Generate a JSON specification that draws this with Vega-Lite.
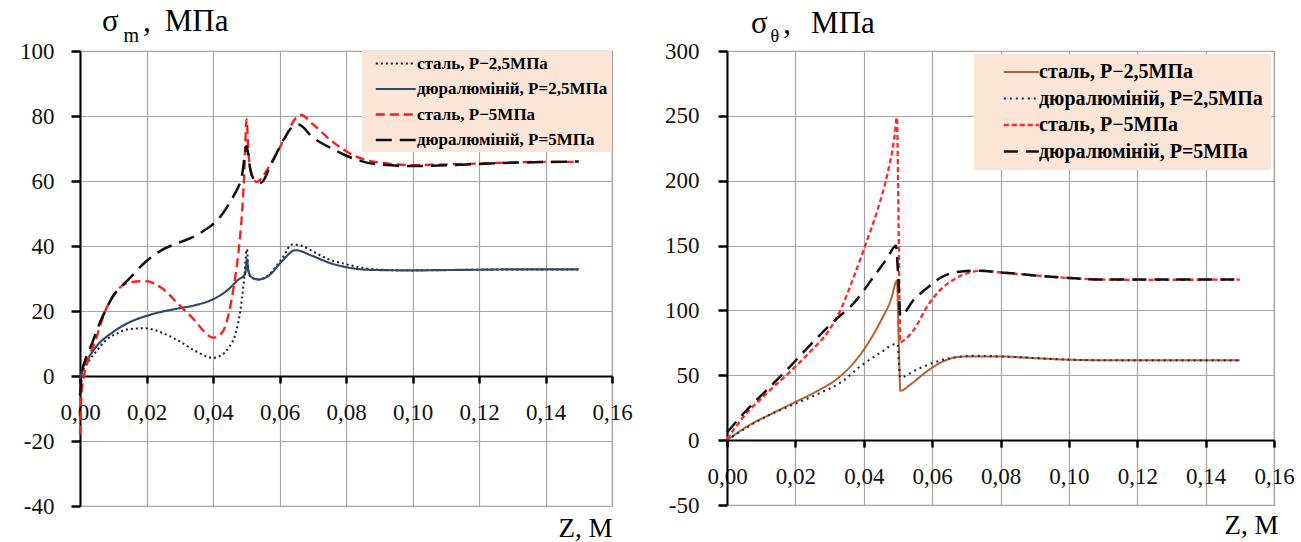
{
  "$schema": "https://vega.github.io/schema/vega-lite/v6.json",
  "background": "white",
  "padding": {"left": 18, "top": 5, "right": 0, "bottom": 0},
  "spacing": 30,
  "config": {
    "font": "Liberation Serif, Times New Roman, serif",
    "view": {"stroke": "#a6a6a6", "strokeWidth": 1.2},
    "style": {"guide-label": {"font": "Liberation Serif, Times New Roman, serif"}, "guide-title": {"font": "Liberation Serif, Times New Roman, serif"}},
    "axis": {"labelFont": "Liberation Serif, Times New Roman, serif", "labelFontSize": 23, "labelColor": "#111", "domainColor": "#000", "domainWidth": 2, "tickColor": "#000", "tickWidth": 2.5, "gridColor": "#a6a6a6", "gridWidth": 1.2, "titleFont": "Liberation Serif, Times New Roman, serif", "titleFontWeight": "normal", "titleColor": "#000", "labelFlush": false, "labelOverlap": false},
    "axisX": {"tickSize": 7, "labelPadding": 18},
    "axisY": {"tickSize": 9, "labelExpr": "datum.value < 0 ? '-' + abs(datum.value) : '' + datum.value"},
    "title": {"font": "Liberation Serif, Times New Roman, serif", "fontSize": 31, "fontWeight": "normal", "color": "#000", "anchor": "start", "frame": "group", "baseline": "alphabetic"},
    "legend": {"labelFont": "Liberation Serif, Times New Roman, serif", "labelFontWeight": "bold", "labelColor": "#000", "labelLimit": 400}
  },
  "datasets": {
    "left": [
      {"s":"сталь, Р−2,5МПа","z":0,"v":-1},{"s":"сталь, Р−2,5МПа","z":0.001,"v":2},{"s":"сталь, Р−2,5МПа","z":0.0026,"v":4.6},{"s":"сталь, Р−2,5МПа","z":0.0046,"v":7.2},{"s":"сталь, Р−2,5МПа","z":0.0076,"v":10.8},{"s":"сталь, Р−2,5МПа","z":0.0116,"v":13.3},{"s":"сталь, Р−2,5МПа","z":0.0146,"v":14.4},{"s":"сталь, Р−2,5МПа","z":0.0196,"v":14.7},{"s":"сталь, Р−2,5МПа","z":0.0247,"v":13.3},{"s":"сталь, Р−2,5МПа","z":0.0297,"v":10.8},{"s":"сталь, Р−2,5МПа","z":0.0347,"v":7.7},{"s":"сталь, Р−2,5МПа","z":0.04,"v":5.6},{"s":"сталь, Р−2,5МПа","z":0.0427,"v":6.5},{"s":"сталь, Р−2,5МПа","z":0.0447,"v":8.7},{"s":"сталь, Р−2,5МПа","z":0.0467,"v":12.8},{"s":"сталь, Р−2,5МПа","z":0.0482,"v":20},{"s":"сталь, Р−2,5МПа","z":0.0492,"v":28.2},{"s":"сталь, Р−2,5МПа","z":0.0502,"v":39},{"s":"сталь, Р−2,5МПа","z":0.0507,"v":32.3},{"s":"сталь, Р−2,5МПа","z":0.0515,"v":30.2},{"s":"сталь, Р−2,5МПа","z":0.0537,"v":29.7},{"s":"сталь, Р−2,5МПа","z":0.0567,"v":31.1},{"s":"сталь, Р−2,5МПа","z":0.0608,"v":36.2},{"s":"сталь, Р−2,5МПа","z":0.0638,"v":40.5},{"s":"сталь, Р−2,5МПа","z":0.0668,"v":40},{"s":"сталь, Р−2,5МПа","z":0.0708,"v":37.9},{"s":"сталь, Р−2,5МПа","z":0.0748,"v":35.9},{"s":"сталь, Р−2,5МПа","z":0.08,"v":34.4},{"s":"сталь, Р−2,5МПа","z":0.0848,"v":33.3},{"s":"сталь, Р−2,5МПа","z":0.09,"v":32.7},{"s":"сталь, Р−2,5МПа","z":0.1,"v":32.5},{"s":"сталь, Р−2,5МПа","z":0.11,"v":32.6},{"s":"сталь, Р−2,5МПа","z":0.12,"v":32.7},{"s":"сталь, Р−2,5МПа","z":0.13,"v":32.8},{"s":"сталь, Р−2,5МПа","z":0.14,"v":32.8},{"s":"сталь, Р−2,5МПа","z":0.15,"v":32.8},
      {"s":"дюралюміній, Р=2,5МПа","z":0,"v":-1},{"s":"дюралюміній, Р=2,5МПа","z":0.001,"v":3},{"s":"дюралюміній, Р=2,5МПа","z":0.0025,"v":5.5},{"s":"дюралюміній, Р=2,5МПа","z":0.0046,"v":8.7},{"s":"дюралюміній, Р=2,5МПа","z":0.0096,"v":13.3},{"s":"дюралюміній, Р=2,5МПа","z":0.0146,"v":16.4},{"s":"дюралюміній, Р=2,5МПа","z":0.02,"v":18.5},{"s":"дюралюміній, Р=2,5МПа","z":0.0247,"v":19.8},{"s":"дюралюміній, Р=2,5МПа","z":0.0297,"v":20.8},{"s":"дюралюміній, Р=2,5МПа","z":0.0347,"v":21.8},{"s":"дюралюміній, Р=2,5МПа","z":0.04,"v":23.6},{"s":"дюралюміній, Р=2,5МПа","z":0.0447,"v":26.7},{"s":"дюралюміній, Р=2,5МПа","z":0.0477,"v":29.7},{"s":"дюралюміній, Р=2,5МПа","z":0.0492,"v":30.8},{"s":"дюралюміній, Р=2,5МПа","z":0.0497,"v":31.5},{"s":"дюралюміній, Р=2,5МПа","z":0.0502,"v":35.9},{"s":"дюралюміній, Р=2,5МПа","z":0.0506,"v":32.5},{"s":"дюралюміній, Р=2,5МПа","z":0.0515,"v":30.5},{"s":"дюралюміній, Р=2,5МПа","z":0.0537,"v":29.7},{"s":"дюралюміній, Р=2,5МПа","z":0.0567,"v":30.8},{"s":"дюралюміній, Р=2,5МПа","z":0.0608,"v":35.4},{"s":"дюралюміній, Р=2,5МПа","z":0.0648,"v":38.7},{"s":"дюралюміній, Р=2,5МПа","z":0.07,"v":36.9},{"s":"дюралюміній, Р=2,5МПа","z":0.0748,"v":34.9},{"s":"дюралюміній, Р=2,5МПа","z":0.08,"v":33.5},{"s":"дюралюміній, Р=2,5МПа","z":0.0848,"v":32.8},{"s":"дюралюміній, Р=2,5МПа","z":0.09,"v":32.6},{"s":"дюралюміній, Р=2,5МПа","z":0.1,"v":32.5},{"s":"дюралюміній, Р=2,5МПа","z":0.11,"v":32.6},{"s":"дюралюміній, Р=2,5МПа","z":0.12,"v":32.7},{"s":"дюралюміній, Р=2,5МПа","z":0.13,"v":32.8},{"s":"дюралюміній, Р=2,5МПа","z":0.14,"v":32.8},{"s":"дюралюміній, Р=2,5МПа","z":0.15,"v":32.8},
      {"s":"сталь, Р−5МПа","z":0,"v":-18},{"s":"сталь, Р−5МПа","z":0.0006,"v":-3.6},{"s":"сталь, Р−5МПа","z":0.0021,"v":3.6},{"s":"сталь, Р−5МПа","z":0.0046,"v":10.8},{"s":"сталь, Р−5МПа","z":0.0076,"v":20},{"s":"сталь, Р−5МПа","z":0.0106,"v":25.6},{"s":"сталь, Р−5МПа","z":0.0146,"v":28.7},{"s":"сталь, Р−5МПа","z":0.0196,"v":29.2},{"s":"сталь, Р−5МПа","z":0.0247,"v":27},{"s":"сталь, Р−5МПа","z":0.0297,"v":22},{"s":"сталь, Р−5МПа","z":0.0347,"v":16.9},{"s":"сталь, Р−5МПа","z":0.0377,"v":13.3},{"s":"сталь, Р−5МПа","z":0.04,"v":11.8},{"s":"сталь, Р−5МПа","z":0.0427,"v":13.3},{"s":"сталь, Р−5МПа","z":0.0447,"v":19},{"s":"сталь, Р−5МПа","z":0.0462,"v":27.2},{"s":"сталь, Р−5МПа","z":0.0477,"v":38.5},{"s":"сталь, Р−5МПа","z":0.0487,"v":49.7},{"s":"сталь, Р−5МПа","z":0.0494,"v":62},{"s":"сталь, Р−5МПа","z":0.0501,"v":79},{"s":"сталь, Р−5МПа","z":0.0506,"v":70},{"s":"сталь, Р−5МПа","z":0.0512,"v":63.5},{"s":"сталь, Р−5МПа","z":0.0522,"v":60.5},{"s":"сталь, Р−5МПа","z":0.0532,"v":59.7},{"s":"сталь, Р−5МПа","z":0.055,"v":61.5},{"s":"сталь, Р−5МПа","z":0.058,"v":66.5},{"s":"сталь, Р−5МПа","z":0.062,"v":74},{"s":"сталь, Р−5МПа","z":0.065,"v":79.5},{"s":"сталь, Р−5МПа","z":0.0665,"v":80.3},{"s":"сталь, Р−5МПа","z":0.07,"v":77.5},{"s":"сталь, Р−5МПа","z":0.0763,"v":71.8},{"s":"сталь, Р−5МПа","z":0.0825,"v":67.8},{"s":"сталь, Р−5МПа","z":0.0888,"v":65.9},{"s":"сталь, Р−5МПа","z":0.0999,"v":64.9},{"s":"сталь, Р−5МПа","z":0.1137,"v":65.2},{"s":"сталь, Р−5МПа","z":0.126,"v":65.6},{"s":"сталь, Р−5МПа","z":0.14,"v":65.9},{"s":"сталь, Р−5МПа","z":0.15,"v":65.9},
      {"s":"дюралюміній, Р=5МПа","z":0,"v":-6},{"s":"дюралюміній, Р=5МПа","z":0.0006,"v":1},{"s":"дюралюміній, Р=5МПа","z":0.0016,"v":5},{"s":"дюралюміній, Р=5МПа","z":0.0036,"v":10},{"s":"дюралюміній, Р=5МПа","z":0.0056,"v":15.5},{"s":"дюралюміній, Р=5МПа","z":0.0076,"v":20},{"s":"дюралюміній, Р=5МПа","z":0.0096,"v":24},{"s":"дюралюміній, Р=5МПа","z":0.0146,"v":29.7},{"s":"дюралюміній, Р=5МПа","z":0.0196,"v":35},{"s":"дюралюміній, Р=5МПа","z":0.0247,"v":38.8},{"s":"дюралюміній, Р=5МПа","z":0.0297,"v":41},{"s":"дюралюміній, Р=5МПа","z":0.0347,"v":43.1},{"s":"дюралюміній, Р=5МПа","z":0.0377,"v":45},{"s":"дюралюміній, Р=5МПа","z":0.04,"v":46.7},{"s":"дюралюміній, Р=5МПа","z":0.0427,"v":49.7},{"s":"дюралюміній, Р=5МПа","z":0.0447,"v":52.8},{"s":"дюралюміній, Р=5МПа","z":0.0464,"v":55.8},{"s":"дюралюміній, Р=5МПа","z":0.0488,"v":62.2},{"s":"дюралюміній, Р=5МПа","z":0.0501,"v":70.8},{"s":"дюралюміній, Р=5МПа","z":0.0511,"v":64.3},{"s":"дюралюміній, Р=5МПа","z":0.0526,"v":60.1},{"s":"дюралюміній, Р=5МПа","z":0.0544,"v":59.5},{"s":"дюралюміній, Р=5МПа","z":0.0576,"v":65.4},{"s":"дюралюміній, Р=5МПа","z":0.0613,"v":72.8},{"s":"дюралюміній, Р=5МПа","z":0.0644,"v":77.1},{"s":"дюралюміній, Р=5МПа","z":0.0657,"v":77.4},{"s":"дюралюміній, Р=5МПа","z":0.07,"v":73.4},{"s":"дюралюміній, Р=5МПа","z":0.0763,"v":69.7},{"s":"дюралюміній, Р=5МПа","z":0.0825,"v":66.8},{"s":"дюралюміній, Р=5МПа","z":0.0888,"v":65.2},{"s":"дюралюміній, Р=5МПа","z":0.1012,"v":64.6},{"s":"дюралюміній, Р=5МПа","z":0.126,"v":65.5},{"s":"дюралюміній, Р=5МПа","z":0.15,"v":66}
    ],
    "right": [
      {"s":"сталь, Р−2,5МПа","z":0,"v":0},{"s":"сталь, Р−2,5МПа","z":0.007,"v":12.3},{"s":"сталь, Р−2,5МПа","z":0.0119,"v":18.8},{"s":"сталь, Р−2,5МПа","z":0.0197,"v":29},{"s":"сталь, Р−2,5МПа","z":0.0265,"v":38},{"s":"сталь, Р−2,5МПа","z":0.0314,"v":45.7},{"s":"сталь, Р−2,5МПа","z":0.0363,"v":57.3},{"s":"сталь, Р−2,5МПа","z":0.0411,"v":74},{"s":"сталь, Р−2,5МПа","z":0.045,"v":92},{"s":"сталь, Р−2,5МПа","z":0.048,"v":108.7},{"s":"сталь, Р−2,5МПа","z":0.0497,"v":122.8},{"s":"сталь, Р−2,5МПа","z":0.0502,"v":80},{"s":"сталь, Р−2,5МПа","z":0.0507,"v":38},{"s":"сталь, Р−2,5МПа","z":0.0538,"v":43.2},{"s":"сталь, Р−2,5МПа","z":0.0587,"v":53.5},{"s":"сталь, Р−2,5МПа","z":0.0626,"v":59.9},{"s":"сталь, Р−2,5МПа","z":0.0665,"v":63.7},{"s":"сталь, Р−2,5МПа","z":0.0704,"v":64.5},{"s":"сталь, Р−2,5МПа","z":0.08,"v":64.5},{"s":"сталь, Р−2,5МПа","z":0.09,"v":63.2},{"s":"сталь, Р−2,5МПа","z":0.1,"v":62},{"s":"сталь, Р−2,5МПа","z":0.11,"v":61.6},{"s":"сталь, Р−2,5МПа","z":0.13,"v":61.5},{"s":"сталь, Р−2,5МПа","z":0.15,"v":61.5},
      {"s":"дюралюміній, Р=2,5МПа","z":0,"v":0},{"s":"дюралюміній, Р=2,5МПа","z":0.0119,"v":18.8},{"s":"дюралюміній, Р=2,5МПа","z":0.0197,"v":27.8},{"s":"дюралюміній, Р=2,5МПа","z":0.0265,"v":35.5},{"s":"дюралюміній, Р=2,5МПа","z":0.0333,"v":44.5},{"s":"дюралюміній, Р=2,5МПа","z":0.0392,"v":57.3},{"s":"дюралюміній, Р=2,5МПа","z":0.045,"v":67.6},{"s":"дюралюміній, Р=2,5МПа","z":0.0493,"v":74},{"s":"дюралюміній, Р=2,5МПа","z":0.0499,"v":74},{"s":"дюралюміній, Р=2,5МПа","z":0.0503,"v":60},{"s":"дюралюміній, Р=2,5МПа","z":0.0507,"v":48.3},{"s":"дюралюміній, Р=2,5МПа","z":0.0548,"v":53.5},{"s":"дюралюміній, Р=2,5МПа","z":0.0606,"v":59.9},{"s":"дюралюміній, Р=2,5МПа","z":0.0665,"v":63.7},{"s":"дюралюміній, Р=2,5МПа","z":0.0723,"v":65},{"s":"дюралюміній, Р=2,5МПа","z":0.08,"v":64.5},{"s":"дюралюміній, Р=2,5МПа","z":0.09,"v":63.3},{"s":"дюралюміній, Р=2,5МПа","z":0.1,"v":62},{"s":"дюралюміній, Р=2,5МПа","z":0.11,"v":61.6},{"s":"дюралюміній, Р=2,5МПа","z":0.13,"v":61.5},{"s":"дюралюміній, Р=2,5МПа","z":0.15,"v":61.5},
      {"s":"сталь, Р−5МПа","z":0,"v":0.8},{"s":"сталь, Р−5МПа","z":0.0051,"v":18.8},{"s":"сталь, Р−5МПа","z":0.0119,"v":36.8},{"s":"сталь, Р−5МПа","z":0.0177,"v":50.9},{"s":"сталь, Р−5МПа","z":0.0246,"v":68.9},{"s":"сталь, Р−5МПа","z":0.0294,"v":83},{"s":"сталь, Р−5МПа","z":0.0333,"v":101},{"s":"сталь, Р−5МПа","z":0.0372,"v":126.7},{"s":"сталь, Р−5МПа","z":0.0411,"v":155},{"s":"сталь, Р−5МПа","z":0.0441,"v":178},{"s":"сталь, Р−5МПа","z":0.047,"v":206},{"s":"сталь, Р−5МПа","z":0.0489,"v":232},{"s":"сталь, Р−5МПа","z":0.0497,"v":248.8},{"s":"сталь, Р−5МПа","z":0.0502,"v":165},{"s":"сталь, Р−5МПа","z":0.0507,"v":75.3},{"s":"сталь, Р−5МПа","z":0.0512,"v":76},{"s":"сталь, Р−5МПа","z":0.0548,"v":85.6},{"s":"сталь, Р−5МПа","z":0.0587,"v":103.6},{"s":"сталь, Р−5МПа","z":0.0626,"v":116.4},{"s":"сталь, Р−5МПа","z":0.0665,"v":124.1},{"s":"сталь, Р−5МПа","z":0.0704,"v":128.8},{"s":"сталь, Р−5МПа","z":0.0743,"v":130.6},{"s":"сталь, Р−5МПа","z":0.0801,"v":129.3},{"s":"сталь, Р−5МПа","z":0.09,"v":127},{"s":"сталь, Р−5МПа","z":0.1,"v":125},{"s":"сталь, Р−5МПа","z":0.11,"v":123.8},{"s":"сталь, Р−5МПа","z":0.12,"v":123.6},{"s":"сталь, Р−5МПа","z":0.15,"v":123.8},
      {"s":"дюралюміній, Р=5МПа","z":0,"v":5.9},{"s":"дюралюміній, Р=5МПа","z":0.0051,"v":21.3},{"s":"дюралюміній, Р=5МПа","z":0.0119,"v":39.3},{"s":"дюралюміній, Р=5МПа","z":0.0177,"v":54.7},{"s":"дюралюміній, Р=5МПа","z":0.0246,"v":74},{"s":"дюралюміній, Р=5МПа","z":0.0314,"v":92},{"s":"дюралюміній, Р=5МПа","z":0.0372,"v":106},{"s":"дюралюміній, Р=5МПа","z":0.0431,"v":126.7},{"s":"дюралюміній, Р=5МПа","z":0.047,"v":140.8},{"s":"дюралюміній, Р=5МПа","z":0.0494,"v":149.8},{"s":"дюралюміній, Р=5МПа","z":0.0501,"v":125},{"s":"дюралюміній, Р=5МПа","z":0.0507,"v":95.9},{"s":"дюралюміній, Р=5МПа","z":0.0548,"v":108.7},{"s":"дюралюміній, Р=5МПа","z":0.0587,"v":117.7},{"s":"дюралюміній, Р=5МПа","z":0.0626,"v":125.4},{"s":"дюралюміній, Р=5МПа","z":0.0665,"v":129.3},{"s":"дюралюміній, Р=5МПа","z":0.0723,"v":130.6},{"s":"дюралюміній, Р=5МПа","z":0.08,"v":129.3},{"s":"дюралюміній, Р=5МПа","z":0.09,"v":127},{"s":"дюралюміній, Р=5МПа","z":0.1,"v":125},{"s":"дюралюміній, Р=5МПа","z":0.11,"v":123.8},{"s":"дюралюміній, Р=5МПа","z":0.15,"v":123.8}
    ]
  },
  "resolve": {
    "scale": {"color": "independent", "strokeDash": "independent", "strokeWidth": "independent", "x": "independent", "y": "independent"},
    "legend": {"color": "independent", "strokeDash": "independent", "strokeWidth": "independent"}
  },
  "hconcat": [
    {
      "width": 532, "height": 455,
      "data": {"name": "left"},
      "title": {"text": "σ\u2002\u2009\u200a, \u2009МПа", "dx": 22, "offset": -13},
      "mark": {"type": "line", "interpolate": "monotone"},
      "encoding": {
        "x": {"field": "z", "type": "quantitative", "scale": {"domain": [0, 0.16], "nice": false, "zero": false},
          "axis": {"values": [0,0.02,0.04,0.06,0.08,0.1,0.12,0.14,0.16], "labelFont": "Liberation Serif, Times New Roman, serif", "labelExpr": "replace(format(datum.value, '.2f'), '.', ',')", "offset": -130, "title": "Z, М", "titleFont": "Liberation Serif, Times New Roman, serif", "titleFontSize": 27, "titleX": 532, "titleY": 160, "titleAlign": "right", "titleBaseline": "alphabetic"}},
        "y": {"field": "v", "type": "quantitative", "scale": {"domain": [-40, 100], "nice": false},
          "axis": {"values": [-40,-20,0,20,40,60,80,100], "labelFont": "Liberation Serif, Times New Roman, serif", "labelPadding": 17, "title": "m", "titleFont": "Liberation Serif, Times New Roman, serif", "titleFontSize": 20, "titleAngle": 0, "titleAlign": "left", "titleBaseline": "alphabetic", "titleX": 43, "titleY": -10}},
        "color": {"field": "s", "type": "nominal",
          "scale": {"domain": ["сталь, Р−2,5МПа","дюралюміній, Р=2,5МПа","сталь, Р−5МПа","дюралюміній, Р=5МПа"], "range": ["#1c1c2c","#2e4a6b","#ff1a1a","#111111"]},
          "legend": {"title": null, "orient": "top-right", "offset": 0, "fillColor": "#fbe5d6", "padding": 4, "rowPadding": 7.5, "symbolType": "M0.19,0H5.9", "symbolSize": 196, "labelFontSize": 17, "labelOffset": 34}},
        "strokeDash": {"field": "s", "type": "nominal",
          "scale": {"domain": ["сталь, Р−2,5МПа","дюралюміній, Р=2,5МПа","сталь, Р−5МПа","дюралюміній, Р=5МПа"], "range": [[2,3],[1,0],[9,5],[16,8]]},
          "legend": {"title": null, "orient": "top-right", "offset": 0, "fillColor": "#fbe5d6", "padding": 4, "rowPadding": 7.5, "symbolType": "M0.19,0H5.9", "symbolSize": 196, "labelFontSize": 17, "labelOffset": 34}},
        "strokeWidth": {"field": "s", "type": "nominal",
          "scale": {"domain": ["сталь, Р−2,5МПа","дюралюміній, Р=2,5МПа","сталь, Р−5МПа","дюралюміній, Р=5МПа"], "range": [2,2.5,3.5,2.5]},
          "legend": {"title": null, "orient": "top-right", "offset": 0, "fillColor": "#fbe5d6", "padding": 4, "rowPadding": 7.5, "symbolType": "M0.19,0H5.9", "symbolSize": 196, "labelFontSize": 17, "labelOffset": 34}}
      }
    },
    {
      "width": 547, "height": 454,
      "data": {"name": "right"},
      "title": {"text": "σ\u2002, \u2009\u2009МПа", "dx": 24, "offset": -13},
      "mark": {"type": "line", "interpolate": "monotone"},
      "encoding": {
        "x": {"field": "z", "type": "quantitative", "scale": {"domain": [0, 0.16], "nice": false, "zero": false},
          "axis": {"values": [0,0.02,0.04,0.06,0.08,0.1,0.12,0.14,0.16], "labelFont": "Liberation Serif, Times New Roman, serif", "labelExpr": "replace(format(datum.value, '.2f'), '.', ',')", "offset": -64.9, "title": "Z, М", "titleFont": "Liberation Serif, Times New Roman, serif", "titleFontSize": 27, "titleX": 551, "titleY": 93, "titleAlign": "right", "titleBaseline": "alphabetic"}},
        "y": {"field": "v", "type": "quantitative", "scale": {"domain": [-50, 300], "nice": false},
          "axis": {"values": [-50,0,50,100,150,200,250,300], "labelFont": "Liberation Serif, Times New Roman, serif", "labelPadding": 19, "title": "θ", "titleFont": "Liberation Serif, Times New Roman, serif", "titleFontSize": 18, "titleAngle": 0, "titleAlign": "left", "titleBaseline": "alphabetic", "titleX": 43, "titleY": -10}},
        "color": {"field": "s", "type": "nominal",
          "scale": {"domain": ["сталь, Р−2,5МПа","дюралюміній, Р=2,5МПа","сталь, Р−5МПа","дюралюміній, Р=5МПа"], "range": ["#b8612a","#2a2a5a","#ff2a2a","#111111"]},
          "legend": {"title": null, "orient": "top-right", "offset": 3, "fillColor": "#fbe5d6", "padding": 8, "rowPadding": 6.5, "symbolType": "M1.69,0H6.69", "symbolSize": 196, "labelFontSize": 20, "labelOffset": 37}},
        "strokeDash": {"field": "s", "type": "nominal",
          "scale": {"domain": ["сталь, Р−2,5МПа","дюралюміній, Р=2,5МПа","сталь, Р−5МПа","дюралюміній, Р=5МПа"], "range": [[1,0],[2,4],[5,3],[14,8]]},
          "legend": {"title": null, "orient": "top-right", "offset": 3, "fillColor": "#fbe5d6", "padding": 8, "rowPadding": 6.5, "symbolType": "M1.69,0H6.69", "symbolSize": 196, "labelFontSize": 20, "labelOffset": 37}},
        "strokeWidth": {"field": "s", "type": "nominal",
          "scale": {"domain": ["сталь, Р−2,5МПа","дюралюміній, Р=2,5МПа","сталь, Р−5МПа","дюралюміній, Р=5МПа"], "range": [2,2.5,1.5,2]},
          "legend": {"title": null, "orient": "top-right", "offset": 3, "fillColor": "#fbe5d6", "padding": 8, "rowPadding": 6.5, "symbolType": "M1.69,0H6.69", "symbolSize": 196, "labelFontSize": 20, "labelOffset": 37}}
      }
    }
  ]
}
